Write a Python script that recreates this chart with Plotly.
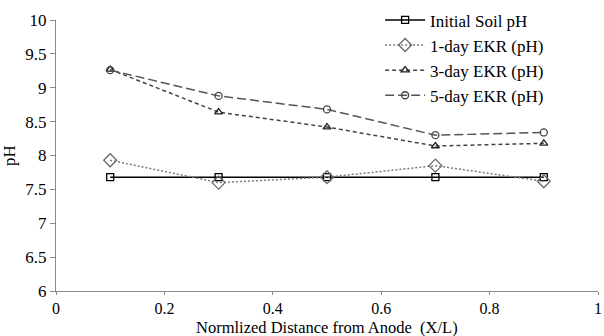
import plotly.graph_objects as go

# Normalized distance from the anode (X/L)
distance = [0.1, 0.3, 0.5, 0.7, 0.9]

# Soil pH along the specimen
initial_ph = [7.68, 7.68, 7.68, 7.68, 7.68]
day1_ph = [7.93, 7.60, 7.68, 7.85, 7.62]
day3_ph = [9.27, 8.64, 8.42, 8.14, 8.18]
day5_ph = [9.26, 8.88, 8.68, 8.30, 8.34]

x_ticks = [0, 0.2, 0.4, 0.6, 0.8, 1]
x_tick_text = ["0", "0.2", "0.4", "0.6", "0.8", "1"]
y_ticks = [6, 6.5, 7, 7.5, 8, 8.5, 9, 9.5, 10]
y_tick_text = ["6", "6.5", "7", "7.5", "8", "8.5", "9", "9.5", "10"]

FONT = "Liberation Serif, Times New Roman, serif"

fig = go.Figure()

fig.add_trace(go.Scatter(
    x=distance, y=initial_ph, name="Initial Soil pH", mode="lines+markers",
    line=dict(color="black", width=1.5, dash="solid"),
    marker=dict(symbol="square-open", size=7, color="black", line=dict(width=1.3)),
))
fig.add_trace(go.Scatter(
    x=distance, y=day1_ph, name="1-day EKR (pH)", mode="lines+markers",
    line=dict(color="#7a7a7a", width=1.5, dash="2px,2px"),
    marker=dict(symbol="diamond-open", size=10, color="#6a6a6a", line=dict(width=1.3)),
))
fig.add_trace(go.Scatter(
    x=distance, y=day3_ph, name="3-day EKR (pH)", mode="lines+markers",
    line=dict(color="#444444", width=1.5, dash="4px,3px"),
    marker=dict(symbol="triangle-up-open", size=7, color="#222222", line=dict(width=1.3)),
))
fig.add_trace(go.Scatter(
    x=distance, y=day5_ph, name="5-day EKR (pH)", mode="lines+markers",
    line=dict(color="#555555", width=1.5, dash="9px,4px"),
    marker=dict(symbol="circle-open", size=7, color="#444444", line=dict(width=1.3)),
))

fig.update_layout(
    width=604, height=336,
    margin=dict(l=56, r=2, t=17, b=45),
    paper_bgcolor="white", plot_bgcolor="white",
    font=dict(family=FONT, size=17, color="black"),
    showlegend=True,
    legend=dict(
        x=0.598, y=1.065, xanchor="left", yanchor="top",
        bgcolor="rgba(0,0,0,0)", borderwidth=0,
        font=dict(family=FONT, size=17, color="black"),
        tracegroupgap=0, itemwidth=40,
    ),
    xaxis=dict(
        range=[0, 1], tickvals=x_ticks, ticktext=x_tick_text,
        showgrid=False, zeroline=False,
        showline=True, linecolor="#8c8c8c", linewidth=1,
        ticks="outside", ticklen=3, tickcolor="#8c8c8c",
        tickfont=dict(family=FONT, size=16),
        ticklabeloverflow="allow",
    ),
    yaxis=dict(
        range=[6, 10], tickvals=y_ticks, ticktext=y_tick_text,
        showgrid=False, zeroline=False,
        showline=True, linecolor="#8c8c8c", linewidth=1,
        ticks="outside", ticklen=5, tickcolor="#8c8c8c",
        tickfont=dict(family=FONT, size=17),
        title=dict(text="pH", standoff=10, font=dict(family=FONT, size=17)),
    ),
    annotations=[dict(
        text="Normlized Distance from Anode  (X/L)",
        xref="paper", yref="paper", x=0.5, y=1.0, yshift=-307,
        xanchor="center", yanchor="middle", showarrow=False,
        font=dict(family=FONT, size=16.5, color="black"),
    )],
)

fig.write_html("out.html")
